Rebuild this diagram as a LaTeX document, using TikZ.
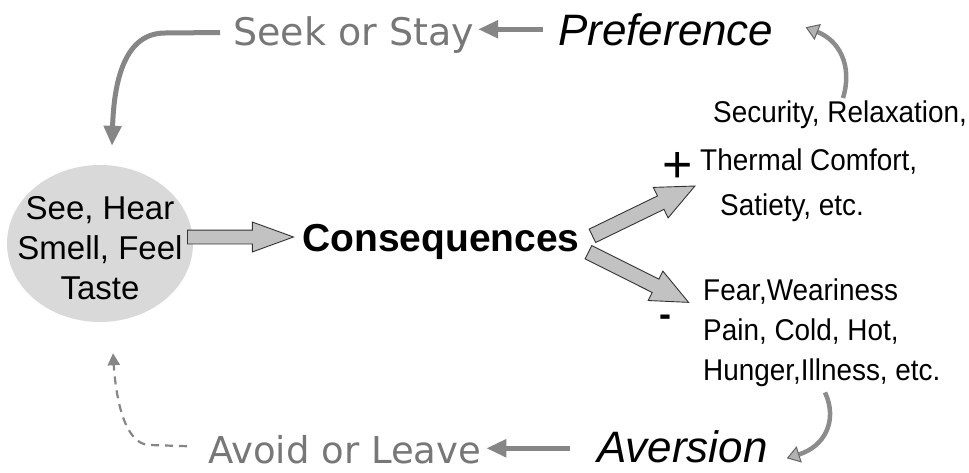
\documentclass[tikz,border=0pt]{standalone}
\usepackage{fontspec}
\setmainfont{Liberation Sans}
\newfontfamily\handfont{DejaVu Sans}
\newfontfamily\condfont[FakeStretch=0.93]{Liberation Sans}
\usetikzlibrary{shapes.geometric,shapes.arrows,arrows.meta,calc}
\definecolor{linegray}{HTML}{868686}
\definecolor{textgray}{HTML}{777777}
\definecolor{ellgray}{HTML}{D9D9D9}
\definecolor{blockgray}{HTML}{C2C2C2}
\definecolor{curlgray}{HTML}{8C8C8C}
\begin{document}
\begin{tikzpicture}[x=1pt,y=-1pt,
  lbl/.style={inner sep=0pt, anchor=base west},
  hand/.style={lbl, font=\handfont\fontsize{38}{40}\selectfont, text=textgray},
  emot/.style={lbl, font=\fontsize{44}{48}\selectfont\itshape},
  cons/.style={lbl, font=\condfont\fontsize{30}{36}\selectfont},
  blockarrow/.style={single arrow, draw=black!80, fill=blockgray, line width=0.9pt,
    inner xsep=0pt, anchor=tail},
  grayarrow/.style={draw=linegray, line width=5pt,
    -{Triangle[length=20pt,width=17pt]}},
  dasharrow/.style={draw=linegray, line width=2.2pt, dash pattern=on 8pt off 6pt,
    -{Triangle[length=12pt,width=12pt]}},
  curl/.style={draw=curlgray, line width=4.5pt,
    -{Triangle[length=13pt,width=17pt,fill=black!30,color=black!60,line width=1pt]}}
]
\useasboundingbox (0,0) rectangle (969,472);

% senses
\node[ellipse, fill=ellgray, minimum width=186pt, minimum height=157pt, inner sep=0pt] (senses) at (100,243.5) {};
\node[align=center, inner sep=0pt, font=\fontsize{33}{40}\selectfont] (sensetext) at (100,248) {See, Hear\\Smell, Feel\\Taste};

% consequences
\node[lbl, font=\fontsize{39}{44}\selectfont\bfseries] (conseq) at (302,251) {Consequences};

% block arrows
\node[blockarrow, inner ysep=6.5pt, single arrow head extend=8pt, single arrow tip angle=40, minimum height=106pt] (b0) at (187,237) {};
\node[blockarrow, rotate=25.9, inner ysep=7pt, single arrow head extend=9.5pt, single arrow tip angle=48, minimum height=114pt] (b1) at (592,236) {};
\node[blockarrow, rotate=-26.6, inner ysep=7pt, single arrow head extend=9pt, single arrow tip angle=48, minimum height=112pt] (b2) at (588,252) {};

% positive
\node[inner sep=0pt, font=\fontsize{52}{52}\selectfont] (plus) at (678,167) {+};
\node[cons] (pos1) at (713,122) {Security, Relaxation,};
\node[cons] (pos2) at (700,170) {Thermal Comfort,};
\node[cons] (pos3) at (720,215) {Satiety, etc.};

% negative
\node[inner sep=0pt, font=\fontsize{36}{36}\selectfont\bfseries] (minus) at (665,321) {-};
\node[cons] (neg1) at (703,300) {Fear,Weariness};
\node[cons] (neg2) at (703,340) {Pain, Cold, Hot,};
\node[cons] (neg3) at (703,380) {Hunger,Illness, etc.};

% emotions
\node[emot] (pref) at (558,45) {Preference};
\node[emot] (aver) at (597,462) {Aversion};

% behaviours
\node[hand] (seek) at (233,45) {Seek or Stay};
\node[hand, font=\handfont\fontsize{37}{40}\selectfont] (avoid) at (208,463) {Avoid or Leave};

% preference -> seek
\coordinate (p1) at ($(pref.west)+(-15,0)$);
\coordinate (p2) at ($(seek.east |- p1)+(4,0)$);
\draw[grayarrow] (p1) -- (p2);

% seek -> senses
\coordinate (q1) at ($(seek.west)+(-13,-2)$);
\coordinate (q2) at ($(senses.north)+(12,-19)$);
\draw[grayarrow] (q1) -- (165,33) .. controls (125,33) and (114,80) .. (q2);

% aversion -> avoid
\coordinate (v1) at ($(aver.west)+(-27,2)$);
\coordinate (v2) at ($(avoid.east |- v1)+(5,0)$);
\draw[grayarrow] (v1) -- (v2);

% avoid -> senses (dashed)
\coordinate (r1) at ($(avoid.west)+(-21,-3)$);
\coordinate (r2) at ($(senses.south)+(13,31)$);
\draw[dasharrow] (r1) -- (150,445) .. controls (125,445) and (116,400) .. (r2);

% curls
\coordinate (k1) at ($(pos1.north west)+(130,-2)$);
\coordinate (k2) at ($(pref.east)+(32,-2)$);
\draw[curl] (k1) .. controls +(10,-33) and +(33,13) .. (k2);
\coordinate (k3) at ($(neg3.south west)+(122,6)$);
\coordinate (k4) at ($(aver.east)+(19,12)$);
\draw[curl] (k3) .. controls +(13,28) and +(38,-12) .. (k4);
\end{tikzpicture}
\end{document}
